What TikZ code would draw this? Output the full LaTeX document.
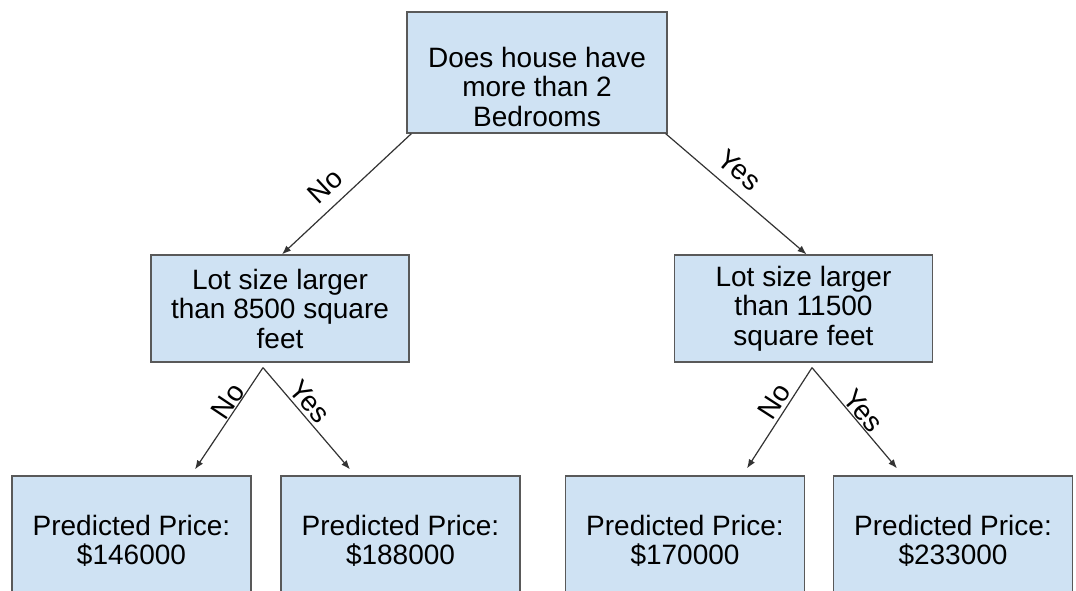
\documentclass[tikz,border=0pt]{standalone}
\usepackage{fontspec}
\setmainfont{Liberation Sans}
\usetikzlibrary{arrows.meta, positioning}
\definecolor{boxfill}{HTML}{CFE2F3}
\definecolor{boxline}{HTML}{595959}
\definecolor{branchline}{HTML}{333333}
\tikzstyle{every node}=[font=\fontsize{28}{29.5}\selectfont]
\tikzstyle{block}=[draw=boxline,fill=boxfill,rectangle,line width=1.3pt,inner sep=0pt,align=center]
\tikzstyle{question}=[block,minimum width=258pt,minimum height=107pt]
\tikzstyle{leaf}=[block,minimum width=239pt,minimum height=130pt]
\tikzstyle{branch}=[->,draw=branchline,line width=1.2pt]
\tikzstyle{ans}=[sloped,above]

\begin{document}
\begin{tikzpicture}[x=1pt,y=-1pt,>={Latex[length=9pt,width=7pt]},on grid]
    \useasboundingbox (0,0) rectangle (1076,590);
    \clip (0,0) rectangle (1076,590);
    \node[block, minimum width=260pt, minimum height=121pt] (root) at (537,72.5) {};
    \node[align=center] (roottext) at ([yshift=-14pt]root.center) {Does house have\\more than 2\\Bedrooms};
    \node[question, below left=236pt and 257pt of root] (lot1) {Lot size larger\\than 8500 square\\feet};
    \node[question, below right=236pt and 266.5pt of root] (lot2) {Lot size larger\\than 11500\\square feet};
    \node[leaf, below left=232.5pt and 148.5pt of lot1] (p1) {Predicted Price:\\\$146000};
    \node[leaf, below right=232.5pt and 120.5pt of lot1] (p2) {Predicted Price:\\\$188000};
    \node[leaf, below left=232.5pt and 118.5pt of lot2] (p3) {Predicted Price:\\\$170000};
    \node[leaf, below right=232.5pt and 149.5pt of lot2] (p4) {Predicted Price:\\\$233000};
    \coordinate (fork1) at ([xshift=-17pt,yshift=-5pt]lot1.south);
    \coordinate (fork2) at ([xshift=8.5pt,yshift=-5pt]lot2.south);
    % first split
    \draw[branch] ([xshift=5pt]root.south west) -- node[ans, pos=.56, inner sep=10pt] {No} ([xshift=2pt]lot1.north);
    \draw[branch] ([xshift=-2pt]root.south east) -- node[ans, pos=.43, inner sep=10pt] {Yes} ([xshift=3pt]lot2.north);
    % lot size splits
    \draw[branch] (fork1) -- node[ans, pos=.39, inner sep=0pt] {No} ([xshift=63.5pt,yshift=6pt]p1.north);
    \draw[branch] (fork1) -- node[ans, pos=.42, inner sep=3pt] {Yes} ([xshift=-50.5pt,yshift=6pt]p2.north);
    \draw[branch] (fork2) -- node[ans, pos=.41, inner sep=3pt] {No} ([xshift=62pt,yshift=7pt]p3.north);
    \draw[branch] (fork2) -- node[ans, pos=.50, inner sep=1pt] {Yes} ([xshift=-56pt,yshift=7pt]p4.north);
\end{tikzpicture}
\end{document}
